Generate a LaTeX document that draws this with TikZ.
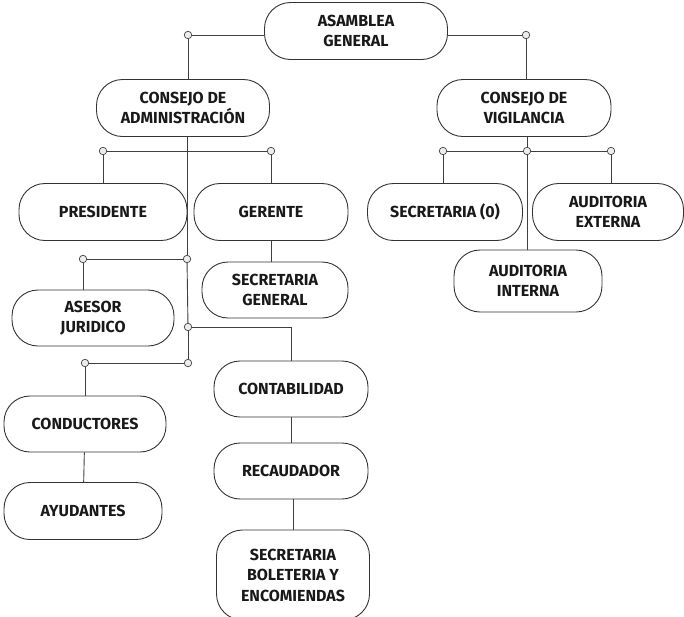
\documentclass[tikz,border=0pt]{standalone}
\usepackage{fontspec}
\setmainfont{Fira Sans}
\usepackage{tikz}
\usetikzlibrary{positioning}

\begin{document}
\begin{tikzpicture}[x=1pt,y=-1pt,
  caja/.style={draw=black!80,line width=0.9pt,rounded corners=26pt,align=center,
    font=\bfseries\fontsize{16}{20.5}\selectfont,text=black!90,inner sep=0pt,minimum height=57pt},
  nudo/.style={circle,draw=black!75,fill=black!7,line width=0.7pt,inner sep=0pt,minimum size=7.5pt},
  linea/.style={draw=black!75,line width=0.9pt}]
\useasboundingbox (0,0) rectangle (684,616);

% cajas
\node [caja,minimum width=183pt] (asamblea) at (356,31) {ASAMBLEA\\GENERAL};
\node [caja,minimum width=173pt] (admin) at (183,108) {CONSEJO DE\\ADMINISTRACIÓN};
\node [caja,minimum width=174pt] (vigilancia) at (524,108) {CONSEJO DE\\VIGILANCIA};
\node [caja,minimum width=168pt] (presidente) at (103,212) {PRESIDENTE};
\node [caja,minimum width=154pt] (gerente) at (271,212) {GERENTE};
\node [caja,minimum width=146pt,minimum height=56pt] (secgeneral) at (275,290) {SECRETARIA\\GENERAL};
\node [caja,minimum width=162pt,minimum height=56pt] (asesor) at (93,318) {ASESOR\\JURIDICO};
\node [caja,minimum width=154pt,minimum height=56pt] (contab) at (291,389) {CONTABILIDAD};
\node [caja,minimum width=162pt,minimum height=56pt] (conductores) at (85,424) {CONDUCTORES};
\node [caja,minimum width=158pt] (ayudantes) at (83,511) {AYUDANTES};
\node [caja,minimum width=154pt,minimum height=56pt] (recaudador) at (291,471) {RECAUDADOR};
\node [caja,minimum width=153pt,minimum height=90pt] (boleteria) at (293,575) {SECRETARIA\\BOLETERIA Y\\ENCOMIENDAS};
\node [caja,minimum width=155pt] (secretaria) at (445,212) {SECRETARIA (0)};
\node [caja,minimum width=151pt] (externa) at (608,212) {AUDITORIA\\EXTERNA};
\node [caja,minimum width=148pt,minimum height=62pt] (interna) at (528,281) {AUDITORIA\\INTERNA};

% nudos
\node [nudo] (n1) at (188,35) {};
\node [nudo] (n2) at (526,35) {};
\node [nudo] (p1) at (103,151) {};
\node [nudo] (g1) at (271,151) {};
\node [nudo] (c1) at (187,259) {};
\node [nudo] (a1) at (83,259) {};
\node [nudo] (c2) at (188,327) {};
\node [nudo] (c3) at (188,363) {};
\node [nudo] (k1) at (85,363) {};
\node [nudo] (v1) at (443,151) {};
\node [nudo] (v2) at (527,151) {};
\node [nudo] (v3) at (611,151) {};

% lineas
\draw [linea] (asamblea.west |- n1) -- (n1);
\draw [linea] (n1) -- (n1 |- admin.north);
\draw [linea] (asamblea.east |- n2) -- (n2);
\draw [linea] (n2) -- (n2 |- vigilancia.north);
\draw [linea] (admin.south -| c1) -- (c1);
\draw [linea] (p1) -- (g1);
\draw [linea] (p1) -- (p1 |- presidente.north);
\draw [linea] (g1) -- (g1 |- gerente.north);
\draw [linea] (gerente.south) -- (secgeneral.north -| gerente.south);
\draw [linea] (c1) -- (a1);
\draw [linea] (a1) -- (a1 |- asesor.north);
\draw [linea] (c1) -- (c2);
\draw [linea] (c2) -- (c3);
\draw [linea] (c2) -- (c2 -| contab) -- (contab.north);
\draw [linea] (c3) -- (k1);
\draw [linea] (k1) -- (k1 |- conductores.north);
\draw [linea] (conductores) -- (ayudantes);
\draw [linea] (contab) -- (recaudador);
\draw [linea] (recaudador.south -| boleteria) -- (boleteria);
\draw [linea] (vigilancia.south -| v2) -- (v2);
\draw [linea] (v1) -- (v2);
\draw [linea] (v2) -- (v3);
\draw [linea] (v1) -- (v1 |- secretaria.north);
\draw [linea] (v3) -- (v3 |- externa.north);
\draw [linea] (v2) -- (v2 |- interna.north);
\end{tikzpicture}
\end{document}
